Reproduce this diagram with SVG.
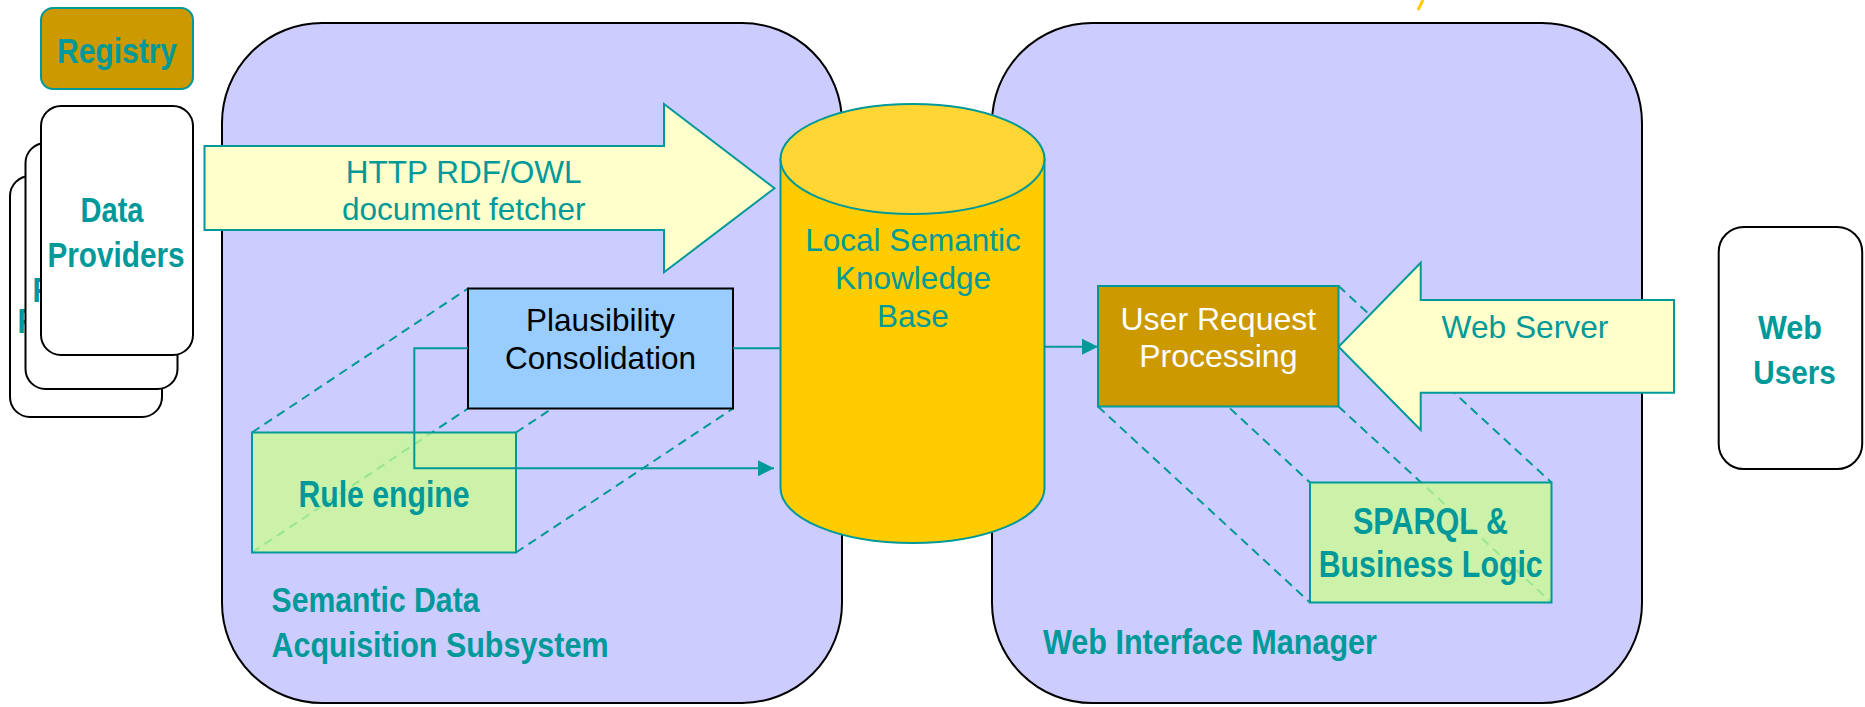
<svg xmlns="http://www.w3.org/2000/svg" width="1865" height="707" viewBox="0 0 1865 707">
  <style>
    .panel { fill: #CCCCFF; stroke: #000000; stroke-width: 2; }
    .card { fill: #FFFFFF; stroke: #000000; stroke-width: 2; }
    .teal-edge { stroke: #009999; stroke-width: 2; }
    .fat-arrow { fill: #FFFFCC; stroke: #009999; stroke-width: 2; }
    .depth { fill: none; stroke: #009999; stroke-width: 2; stroke-dasharray: 9 6; }
    .wire { fill: none; stroke: #009999; stroke-width: 2; }
    .label { font-family: "Liberation Sans", Arial, sans-serif; font-size: 31.5px; fill: #009999; }
    .narrow { font-family: "Liberation Sans Narrow", "Liberation Sans", Arial, sans-serif; font-weight: bold; font-size: 35px; fill: #009999; }
    .mid { text-anchor: middle; }
  </style>
  <defs>
    <marker id="arrowhead" markerUnits="userSpaceOnUse" markerWidth="17" markerHeight="17" refX="16" refY="8" orient="auto">
      <path d="M0,0 L16,8 L0,16 Z" fill="#009999"/>
    </marker>
  </defs>

  <rect width="1865" height="707" fill="#FFFFFF"/>

  <!-- stray highlighter stroke at the top edge -->
  <line x1="1418" y1="10" x2="1423" y2="0" stroke="#FFCC00" stroke-width="3"/>

  <!-- subsystem panels -->
  <g id="panel-acquisition">
    <rect class="panel" x="222" y="23" width="620" height="680" rx="100" ry="100"/>
    <text class="narrow" x="271.5" y="612" textLength="208" lengthAdjust="spacingAndGlyphs">Semantic Data</text>
    <text class="narrow" x="271.5" y="657" textLength="337" lengthAdjust="spacingAndGlyphs">Acquisition Subsystem</text>
  </g>
  <g id="panel-web-interface">
    <rect class="panel" x="992" y="23" width="650" height="680" rx="100" ry="100"/>
    <text class="narrow" x="1043" y="654" textLength="334" lengthAdjust="spacingAndGlyphs">Web Interface Manager</text>
  </g>

  <!-- registry -->
  <g id="registry">
    <rect x="41" y="8" width="152" height="81" rx="12" ry="12" fill="#CC9900" class="teal-edge"/>
    <text class="narrow mid" x="117" y="63" textLength="120" lengthAdjust="spacingAndGlyphs">Registry</text>
  </g>

  <!-- stacked data provider cards, back to front -->
  <g id="data-providers-3">
    <rect class="card" x="10" y="176" width="152" height="241" rx="20" ry="20"/>
    <text class="narrow mid" x="86" y="333" textLength="137" lengthAdjust="spacingAndGlyphs">Providers</text>
  </g>
  <g id="data-providers-2">
    <rect class="card" x="25.5" y="143" width="152" height="246" rx="20" ry="20"/>
    <text class="narrow mid" x="101" y="302" textLength="137" lengthAdjust="spacingAndGlyphs">Providers</text>
  </g>
  <g id="data-providers">
    <rect class="card" x="41" y="106" width="152" height="249" rx="20" ry="20"/>
    <text class="narrow mid" x="112" y="222" textLength="63" lengthAdjust="spacingAndGlyphs">Data</text>
    <text class="narrow mid" x="116" y="267" textLength="137" lengthAdjust="spacingAndGlyphs">Providers</text>
  </g>

  <!-- depth guides between the stacked component boxes -->
  <g id="depth-guides">
    <line class="depth" x1="252" y1="432.5" x2="468" y2="288.5"/>
    <line class="depth" x1="516" y1="432.5" x2="733" y2="288.5"/>
    <line class="depth" x1="252" y1="552.5" x2="468" y2="408.5"/>
    <line class="depth" x1="516" y1="552.5" x2="733" y2="408.5"/>
    <line class="depth" x1="1098" y1="286" x2="1310" y2="482.5"/>
    <line class="depth" x1="1338.5" y1="286" x2="1551.5" y2="482.5"/>
    <line class="depth" x1="1098" y1="406.5" x2="1310" y2="602.5"/>
    <line class="depth" x1="1338.5" y1="406.5" x2="1551.5" y2="602.5"/>
  </g>

  <!-- HTTP fetcher -->
  <g id="http-fetcher">
    <polygon class="fat-arrow" points="204.5,146 664,146 664,104 774.5,188.3 664,272.3 664,230 204.5,230"/>
    <text class="label mid" x="463.7" y="183">HTTP RDF/OWL</text>
    <text class="label mid" x="463.7" y="220">document fetcher</text>
  </g>

  <!-- knowledge base cylinder -->
  <g id="knowledge-base">
    <path d="M780.5,159 L780.5,488 A132,55 0 0 0 1044.5,488 L1044.5,159 Z" fill="#FFCC00" class="teal-edge"/>
    <ellipse cx="912.5" cy="159" rx="132" ry="55" fill="#FFD633" class="teal-edge"/>
    <text class="label mid" x="913" y="251">Local Semantic</text>
    <text class="label mid" x="913" y="289">Knowledge</text>
    <text class="label mid" x="913" y="327">Base</text>
  </g>

  <!-- plausibility consolidation -->
  <g id="plausibility">
    <rect x="468" y="288.5" width="265" height="120" fill="#99CCFF" stroke="#000000" stroke-width="2"/>
    <text class="label mid" x="600.5" y="331" style="fill:#000000">Plausibility</text>
    <text class="label mid" x="600.5" y="368.5" style="fill:#000000">Consolidation</text>
  </g>

  <!-- rule engine -->
  <g id="rule-engine">
    <rect x="252" y="432.5" width="264" height="120" fill="#CCFF8E" fill-opacity="0.75" class="teal-edge"/>
    <text class="narrow mid" x="384" y="507" textLength="171" lengthAdjust="spacingAndGlyphs" style="font-size:36px">Rule engine</text>
  </g>

  <!-- user request processing -->
  <g id="user-request">
    <rect x="1098" y="286" width="240.5" height="120.5" fill="#CC9900" class="teal-edge"/>
    <text class="label mid" x="1218.3" y="329.5" style="fill:#FFFFFF;font-size:32px">User Request</text>
    <text class="label mid" x="1218.3" y="367" style="fill:#FFFFFF;font-size:32px">Processing</text>
  </g>

  <!-- SPARQL and business logic -->
  <g id="sparql-logic">
    <rect x="1310" y="482.5" width="241.5" height="120" fill="#CCFF8E" fill-opacity="0.75" class="teal-edge"/>
    <text class="narrow mid" x="1430.5" y="534.3" textLength="155" lengthAdjust="spacingAndGlyphs" style="font-size:36px">SPARQL &amp;</text>
    <text class="narrow mid" x="1430.7" y="577.3" textLength="224" lengthAdjust="spacingAndGlyphs" style="font-size:36px">Business Logic</text>
  </g>

  <!-- web server -->
  <g id="web-server">
    <polygon class="fat-arrow" points="1674,300 1420.7,300 1420.7,262.7 1338.6,346.7 1420.7,430 1420.7,392.7 1674,392.7"/>
    <text class="label" x="1441.6" y="338" style="font-size:31.7px">Web Server</text>
  </g>

  <!-- web users -->
  <g id="web-users">
    <rect class="card" x="1718.7" y="227" width="143.5" height="242" rx="25" ry="25"/>
    <text class="narrow mid" x="1790" y="339" textLength="64" lengthAdjust="spacingAndGlyphs" style="font-size:34px">Web</text>
    <text class="narrow mid" x="1794.6" y="384" textLength="82.5" lengthAdjust="spacingAndGlyphs" style="font-size:34px">Users</text>
  </g>

  <!-- connectors -->
  <g id="connectors">
    <line class="wire" x1="733" y1="348.3" x2="780.5" y2="348.3"/>
    <polyline class="wire" points="468,348.3 414.3,348.3 414.3,468.3 774,468.3" marker-end="url(#arrowhead)"/>
    <line class="wire" x1="1044.5" y1="346.7" x2="1098" y2="346.7" marker-end="url(#arrowhead)"/>
  </g>
</svg>
